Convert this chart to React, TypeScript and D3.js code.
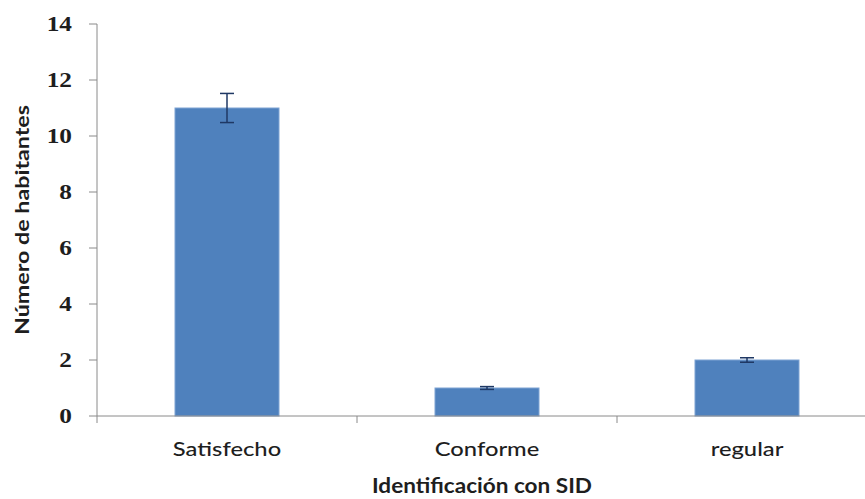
import React from "react";
import * as d3 from "d3";

const categories = ["Satisfecho", "Conforme", "regular"];
const values = [11, 1, 2];
const errors = [0.52, 0.05, 0.08];
const yTicks = [0, 2, 4, 6, 8, 10, 12, 14];

const W = 865;
const H = 499;
const left = 97;
const top = 24;
const bottom = 416;
const right = 877;

export default function App() {
  const x = d3.scaleBand<string>().domain(categories).range([left, right]).paddingInner(0.6).paddingOuter(0.3);
  const y = d3.scaleLinear().domain([0, 14]).range([bottom, top]);
  const step = x.step();
  const boundaries = [0, 1, 2].map((i) => left + i * step);
  const sans = "Lato, 'Open Sans', sans-serif";
  const serif = "'Liberation Serif', 'DejaVu Serif', serif";
  const ink = "#1e1e1e";
  return (
    <svg width={W} height={H} style={{ position: "absolute", left: 0, top: 0, background: "#fff" }}>
      {/* y axis */}
      <line x1={left} x2={left} y1={top} y2={bottom} stroke="#8a8a8a" strokeWidth={1} />
      {yTicks.map((t) => (
        <g key={t}>
          <line x1={left - 8} x2={left} y1={y(t)} y2={y(t)} stroke="#8a8a8a" />
          <text
            transform={`translate(72,${y(t)}) scale(1.15,1)`}
            dy="0.34em"
            textAnchor="end"
            fontFamily={serif}
            fontSize={22}
            fontWeight="bold"
            fill={ink}
          >
            {t}
          </text>
        </g>
      ))}
      {/* bars */}
      {categories.map((c, i) => (
        <rect key={c} x={x(c)} y={y(values[i])} width={x.bandwidth()} height={bottom - y(values[i])} fill="#4f81bd" stroke="#7ea3d3" strokeWidth={1} />
      ))}
      {/* error bars */}
      {categories.map((c, i) => {
        const cx = (x(c) as number) + x.bandwidth() / 2;
        const y1 = y(values[i] + errors[i]);
        const y2 = y(values[i] - errors[i]);
        return (
          <g key={c} stroke="#1f3864" strokeWidth={1.5}>
            <line x1={cx} x2={cx} y1={y1} y2={y2} />
            <line x1={cx - 7} x2={cx + 7} y1={y1} y2={y1} />
            <line x1={cx - 7} x2={cx + 7} y1={y2} y2={y2} />
          </g>
        );
      })}
      {/* x axis */}
      <line x1={left} x2={W} y1={bottom} y2={bottom} stroke="#8a8a8a" strokeWidth={1} />
      {boundaries.map((b) => (
        <line key={b} x1={b} x2={b} y1={bottom} y2={bottom + 7} stroke="#8a8a8a" />
      ))}
      {categories.map((c) => {
        const cx = (x(c) as number) + x.bandwidth() / 2;
        return (
          <text
            key={c}
            transform={`translate(${cx},456) scale(1.25,1)`}
            textAnchor="middle"
            fontFamily={sans}
            fontSize={19}
            fontWeight={500}
            fill={ink}
          >
            {c}
          </text>
        );
      })}
      <text
        x={482}
        y={493}
        textAnchor="middle"
        fontFamily={sans}
        fontSize={21}
        fontWeight="bold"
        fill={ink}
        textLength={220}
        lengthAdjust="spacingAndGlyphs"
      >
        Identificación con SID
      </text>
      <text
        transform={`translate(29,220) rotate(-90)`}
        textAnchor="middle"
        fontFamily={sans}
        fontSize={19}
        fontWeight="bold"
        fill={ink}
        textLength={230}
        lengthAdjust="spacingAndGlyphs"
      >
        Número de habitantes
      </text>
    </svg>
  );
}
